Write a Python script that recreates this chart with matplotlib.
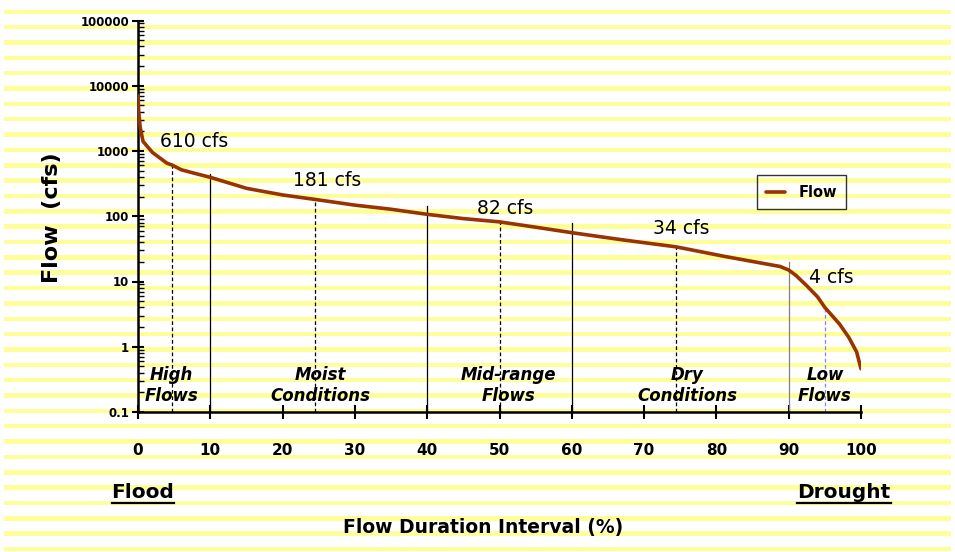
import matplotlib
matplotlib.use("Agg")
import matplotlib.pyplot as plt
from matplotlib.patches import Rectangle
from matplotlib.lines import Line2D
from matplotlib.ticker import LogLocator, NullFormatter, FixedLocator

plt.rcParams['font.family'] = ['DejaVu Sans']

# Flow duration curve (percent of time exceeded vs. flow in cfs)
pct = [0, 0.1, 0.3, 0.7, 2, 4, 4.7, 6, 8, 10, 15, 20, 24.5, 30, 35, 40, 45,
       50, 55, 60, 67, 74.4, 81, 85.5, 88.8, 90, 91, 92.5, 94, 95, 97, 98.3,
       99.4, 100]
flow = [7000, 4000, 2300, 1400, 950, 650, 610, 515, 450, 395, 268, 212, 181,
        148, 128, 107, 92, 82, 68, 56, 43.5, 34, 24.4, 19.8, 17, 15, 12.4,
        8.6, 5.8, 4, 2.25, 1.4, 0.83, 0.46]

# Zone boundaries and the top of each boundary line
bounds = [10, 40, 60, 90]
bound_tops = [445, 142, 78, 19.8]
bound_colors = ['black', 'black', 'black', '#808080']

# Zone midpoints with their flows
mid_pct = [4.7, 24.5, 50, 74.4, 95]
mid_flow = [610, 181, 82, 34, 4]
mid_colors = ['black', 'black', 'black', 'black', '#8080ff']
mid_text = ['610 cfs', '181 cfs', '82 cfs', '34 cfs', '4 cfs']
mid_text_pos = [(7.75, 1390), (26.1, 359), (50.8, 132), (75.1, 65), (95.9, 11.5)]

zones = ['High\nFlows', 'Moist\nConditions', 'Mid-range\nFlows',
         'Dry\nConditions', 'Low\nFlows']
zone_x = [4.6, 25.2, 51.3, 76.0, 95.0]

xticks = list(range(0, 101, 10))
yticks = [0.1, 1, 10, 100, 1000, 10000, 100000]
ytick_labels = ['0.1', '1', '10', '100', '1000', '10000', '100000']

W, H = 955, 552
fig = plt.figure(figsize=(W / 100, H / 100), dpi=100)
fig.patch.set_facecolor('white')

# striped yellow background across the whole figure
bg = fig.add_axes([0, 0, 1, 1], zorder=0)
bg.set_xlim(0, W)
bg.set_ylim(H, 0)
bg.axis('off')
for i in range(36):
    y0 = 9.5 + i * 15.35
    bg.add_patch(Rectangle((4, y0), 947, 4.5, facecolor='#ffff99', lw=0))

ax = fig.add_axes([138 / W, 1 - 412 / H, 723 / W, 391.5 / H], zorder=1)
ax.patch.set_alpha(0)
ax.set_yscale('log')
ax.set_xlim(0, 100)
ax.set_ylim(0.1, 100000)

for s in ['top', 'right']:
    ax.spines[s].set_visible(False)
for s in ['left', 'bottom']:
    ax.spines[s].set_linewidth(1.8)
    ax.spines[s].set_color('black')

# zone boundaries
for x, top, c in zip(bounds, bound_tops, bound_colors):
    ax.plot([x, x], [0.1, top], color=c, lw=0.9, zorder=2)

# zone midpoints
for x, v, c in zip(mid_pct, mid_flow, mid_colors):
    ax.plot([x, x], [0.1, v], color=c, lw=0.9, ls=(0, (3, 2)), zorder=2)

ax.plot(pct, flow, color='#993300', lw=2.6, zorder=3, label='Flow',
        solid_capstyle='round', solid_joinstyle='round')

for (tx, ty), s in zip(mid_text_pos, mid_text):
    ax.text(tx, ty, s, fontsize=13.5, ha='center', va='center', zorder=4)

for x, z in zip(zone_x, zones):
    ax.text(x, 0.255, z, fontsize=12, fontweight='bold', fontstyle='italic',
            ha='center', va='center', linespacing=1.15, zorder=4)

ax.xaxis.set_major_locator(FixedLocator(xticks))
ax.set_xticklabels([str(t) for t in xticks], fontsize=11, fontweight='bold')
ax.tick_params(axis='x', which='major', direction='inout', length=10,
               width=1.5, pad=17)

ax.yaxis.set_major_locator(FixedLocator(yticks))
ax.set_yticklabels(ytick_labels, fontsize=8.5, fontweight='bold')
ax.yaxis.set_minor_locator(LogLocator(base=10, subs=range(2, 10), numticks=20))
ax.yaxis.set_minor_formatter(NullFormatter())
ax.tick_params(axis='y', which='major', direction='inout', length=9,
               width=1.5, pad=2)
ax.tick_params(axis='y', which='minor', direction='in', length=4, width=1)

ax.set_ylabel('Flow  (cfs)', fontsize=16, fontweight='bold', labelpad=0)
ax.yaxis.set_label_coords((62 - 138) / 723, 0.5 + (412 - 218 - 195.75) / 391.5)

leg = ax.legend(loc='upper left', bbox_to_anchor=(0.856, 0.605),
                borderaxespad=0, frameon=True, fancybox=False,
                prop={'weight': 'bold', 'size': 10.5}, handlelength=1.3,
                borderpad=0.65, handletextpad=0.9)
leg.get_frame().set_edgecolor('black')
leg.get_frame().set_linewidth(1.0)
leg.get_frame().set_facecolor('none')

fig.text(483 / W, 1 - 527 / H, 'Flow Duration Interval (%)', fontsize=13.5,
         fontweight='bold', ha='center', va='center')
t_flood = fig.text(143 / W, 1 - 492 / H, 'Flood', fontsize=14.5,
                   fontweight='bold', ha='center', va='center')
t_drought = fig.text(844 / W, 1 - 492 / H, 'Drought', fontsize=14.5,
                     fontweight='bold', ha='center', va='center')

# underline the two end labels
fig.canvas.draw()
rend = fig.canvas.get_renderer()
for t in (t_flood, t_drought):
    bb = t.get_window_extent(rend)
    y = (bb.y0 - 1) / H
    fig.add_artist(Line2D([bb.x0 / W, bb.x1 / W], [y, y], color='black',
                          lw=1.6, transform=fig.transFigure))

fig.savefig('out.png', dpi=100)
